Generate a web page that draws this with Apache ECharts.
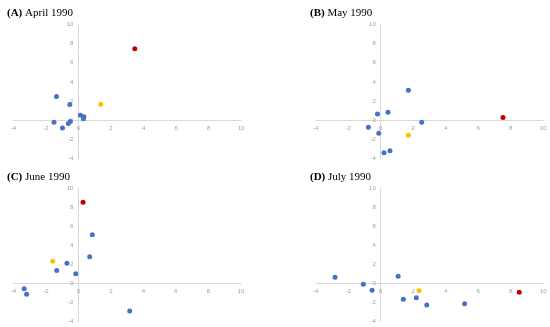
<!DOCTYPE html>
<html>
<head>
<meta charset="utf-8">
<script src="https://cdn.jsdelivr.net/npm/echarts@6/dist/echarts.min.js"></script>
<style>html,body{margin:0;padding:0;background:#fff;}#c{width:550px;height:327px;}</style>
</head>
<body>
<div id="c"></div>
<script>
// Panel titles
var panelLetters = ['A', 'B', 'C', 'D'];
var panelNames = ['April 1990', 'May 1990', 'June 1990', 'July 1990'];
// Axis tick values
var axisMin = -4, axisMax = 10, axisStep = 2;

// (A) April 1990
var aBlue = [[-1.35, 2.47], [-0.53, 1.64], [0.12, 0.52], [0.33, 0.38], [0.31, 0.17], [-1.5, -0.21], [-0.98, -0.8], [-0.62, -0.33], [-0.5, -0.12]];
var aYellow = [[1.37, 1.67]];
var aRed = [[3.46, 7.46]];
// (B) May 1990
var bBlue = [[1.7, 3.14], [0.45, 0.84], [-0.2, 0.66], [2.52, -0.21], [-0.76, -0.73], [-0.12, -1.36], [0.2, -3.38], [0.57, -3.17]];
var bYellow = [[1.7, -1.57]];
var bRed = [[7.52, 0.28]];
// (C) June 1990
var cBlue = [[0.86, 5.1], [0.7, 2.8], [-0.7, 2.13], [-1.33, 1.36], [-0.16, 1.01], [-3.33, -0.56], [-3.18, -1.12], [3.16, -2.87]];
var cYellow = [[-1.58, 2.34]];
var cRed = [[0.29, 8.5]];
// (D) July 1990
var dBlue = [[-2.81, 0.66], [-1.07, -0.07], [-0.53, -0.7], [1.07, 0.77], [1.39, -1.64], [2.19, -1.5], [2.83, -2.24], [5.16, -2.13]];
var dYellow = [[2.36, -0.77]];
var dRed = [[8.52, -0.91]];

var panels = [
  {blue: aBlue, yellow: aYellow, red: aRed},
  {blue: bBlue, yellow: bYellow, red: bRed},
  {blue: cBlue, yellow: cYellow, red: cRed},
  {blue: dBlue, yellow: dYellow, red: dRed}
];

var gridPos = [
  {left: 13.3, top: 24.3, width: 228, height: 134.4},
  {left: 315.7, top: 24.3, width: 227.6, height: 134.4},
  {left: 13.3, top: 188, width: 227.6, height: 133.7},
  {left: 315.7, top: 188, width: 227.6, height: 133.7}
];
var titlePos = [
  {left: 2, top: 3},
  {left: 305, top: 3},
  {left: 2, top: 167},
  {left: 305, top: 167}
];

var grids = [], xAxes = [], yAxes = [], series = [], titles = [];
var axisLabelStyle = {color: '#a0a0a0', fontSize: 6, fontFamily: 'Liberation Sans'};
var span = axisMax - axisMin;
for (var i = 0; i < 4; i++) {
  var g = gridPos[i];
  grids.push(Object.assign({containLabel: false}, g));
  titles.push({
    left: titlePos[i].left, top: titlePos[i].top,
    text: '{b|(' + panelLetters[i] + ')} {n|' + panelNames[i] + '}',
    textStyle: {
      fontWeight: 'normal', fontSize: 11, fontFamily: 'Liberation Serif', color: '#000',
      rich: {
        b: {fontFamily: 'Liberation Serif', fontWeight: 'bold', fontSize: 11, color: '#000'},
        n: {fontFamily: 'Liberation Serif', fontWeight: 'normal', fontSize: 11, color: '#000'}
      }
    }
  });
  // place axes through the origin by offsetting them inward
  var xOff = -(0 - axisMin) / span * g.height;
  var yOff = -(0 - axisMin) / span * g.width;
  xAxes.push({
    gridIndex: i, type: 'value', min: axisMin, max: axisMax, interval: axisStep,
    offset: xOff,
    axisLine: {onZero: false, lineStyle: {color: '#d9d9d9', width: 1}},
    axisTick: {show: false},
    splitLine: {show: false},
    axisLabel: Object.assign({margin: 5}, axisLabelStyle)
  });
  yAxes.push({
    gridIndex: i, type: 'value', min: axisMin, max: axisMax, interval: axisStep,
    offset: yOff,
    axisLine: {show: true, onZero: false, lineStyle: {color: '#d9d9d9', width: 1}},
    axisTick: {show: false},
    splitLine: {show: false},
    axisLabel: Object.assign({margin: 5}, axisLabelStyle)
  });
  var p = panels[i];
  [['blue', '#4472C4'], ['yellow', '#FFC000'], ['red', '#C00000']].forEach(function (s) {
    series.push({
      type: 'scatter', xAxisIndex: i, yAxisIndex: i,
      data: p[s[0]], symbolSize: 5,
      itemStyle: {color: s[1], opacity: 1},
      silent: true
    });
  });
}

var chart = echarts.init(document.getElementById('c'), null, {renderer: 'canvas'});
chart.setOption({
  animation: false,
  backgroundColor: '#fff',
  title: titles,
  grid: grids,
  xAxis: xAxes,
  yAxis: yAxes,
  series: series
});
</script>
</body>
</html>
